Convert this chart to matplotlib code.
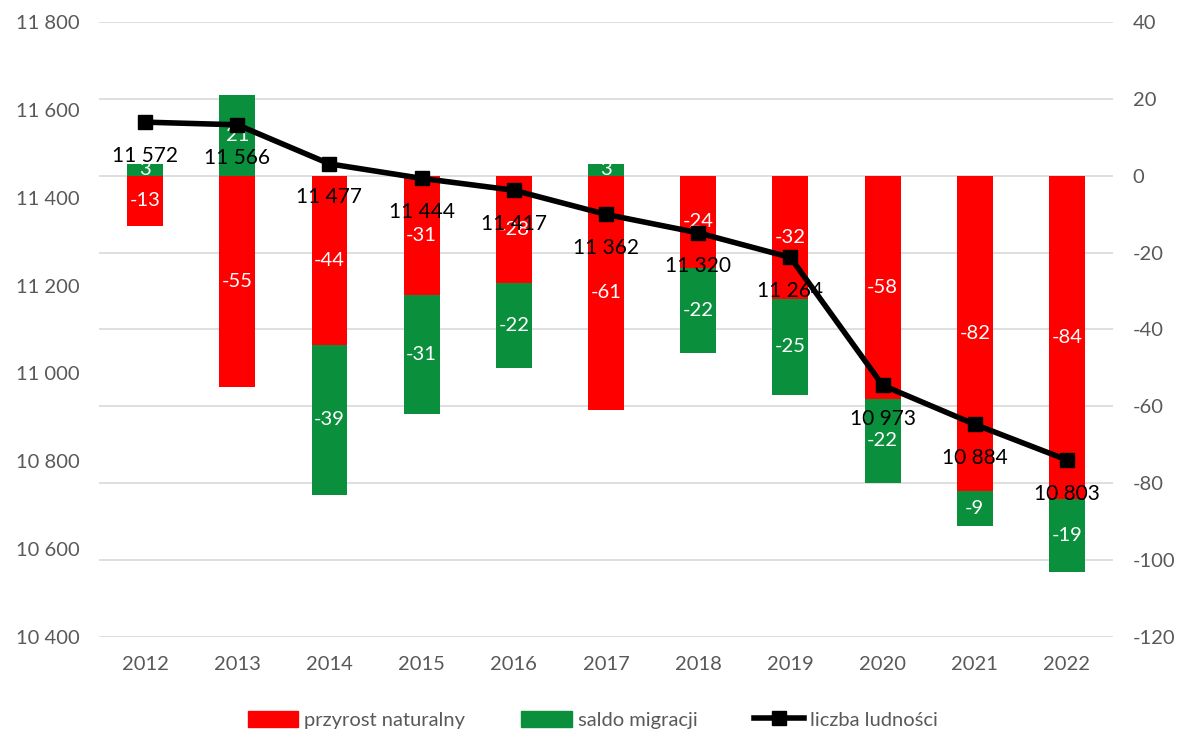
import matplotlib.pyplot as plt
from matplotlib.lines import Line2D
from matplotlib.patches import Patch
from matplotlib.ticker import FuncFormatter
import numpy as np

plt.rcParams['font.family'] = ['Lato', 'DejaVu Sans']
plt.rcParams['axes.unicode_minus'] = False

# dane
years = ['2012', '2013', '2014', '2015', '2016', '2017', '2018', '2019', '2020', '2021', '2022']
przyrost = [-13, -55, -44, -31, -28, -61, -24, -32, -58, -82, -84]
saldo = [3, 21, -39, -31, -22, 3, -22, -25, -22, -9, -19]
ludnosc = [11572, 11566, 11477, 11444, 11417, 11362, 11320, 11264, 10973, 10884, 10803]

red = '#FF0000'
green = '#0A8F3C'
gray = '#595959'

fig = plt.figure(figsize=(11.86, 7.33), dpi=100)
ax = fig.add_axes([0.0835, 0.131, 0.855, 0.839])
ax2 = ax.twinx()

x = np.arange(len(years))
w = 0.39

# slupki na prawej osi
ax2.bar(x, przyrost, w, color=red, zorder=2)
green_bottom = [0 if s > 0 else p for s, p in zip(saldo, przyrost)]
ax2.bar(x, saldo, w, bottom=green_bottom, color=green, zorder=2)

for i in range(len(years)):
    ax2.text(x[i], przyrost[i] / 2, str(przyrost[i]), ha='center', va='center',
             color='white', fontsize=14.5, zorder=3)
    ax2.text(x[i], green_bottom[i] + saldo[i] / 2, str(saldo[i]), ha='center', va='center',
             color='white', fontsize=14.5, zorder=3)

ax2.set_ylim(-120, 40)
ax2.set_yticks(range(-120, 41, 20))

# linia na lewej osi - rysowana nad slupkami
ax.set_zorder(ax2.get_zorder() + 1)
ax.patch.set_visible(False)
ax.plot(x, ludnosc, color='black', lw=4, marker='s', markersize=10, zorder=4)
for i, v in enumerate(ludnosc):
    ax.annotate(f'{v:,}'.replace(',', ' '), (x[i], v), xytext=(0, -17), textcoords='offset points',
                ha='center', va='top', fontsize=15, color='black', zorder=5)

ax.set_ylim(10400, 11800)
ax.set_yticks(range(10400, 11801, 200))
ax.yaxis.set_major_formatter(FuncFormatter(lambda v, p: f'{int(v):,}'.replace(',', ' ')))
ax.set_xlim(-0.5, len(years) - 0.5)
ax.set_xticks(x)
ax.set_xticklabels(years)

for a in (ax, ax2):
    for s in a.spines.values():
        s.set_visible(False)
    a.tick_params(length=0, labelsize=14.5, labelcolor=gray)
ax.tick_params(axis='y', pad=14)
ax.tick_params(axis='x', pad=14)
ax2.tick_params(axis='y', pad=14)

ax2.grid(axis='y', color='#D9D9D9', lw=1.2, zorder=0)
ax2.set_axisbelow(True)

handles = [Patch(color=red, label='przyrost naturalny'),
           Patch(color=green, label='saldo migracji'),
           Line2D([0], [0], color='black', lw=4, marker='s', markersize=10, label='liczba ludności')]
fig.legend(handles=handles, loc='center', bbox_to_anchor=(0.5, 0.018), ncol=3, frameon=False,
           fontsize=14.5, labelcolor=gray, handlelength=2.5, handleheight=0.9, columnspacing=2.8,
           handletextpad=0.3)

fig.savefig('out.png', dpi=100)
